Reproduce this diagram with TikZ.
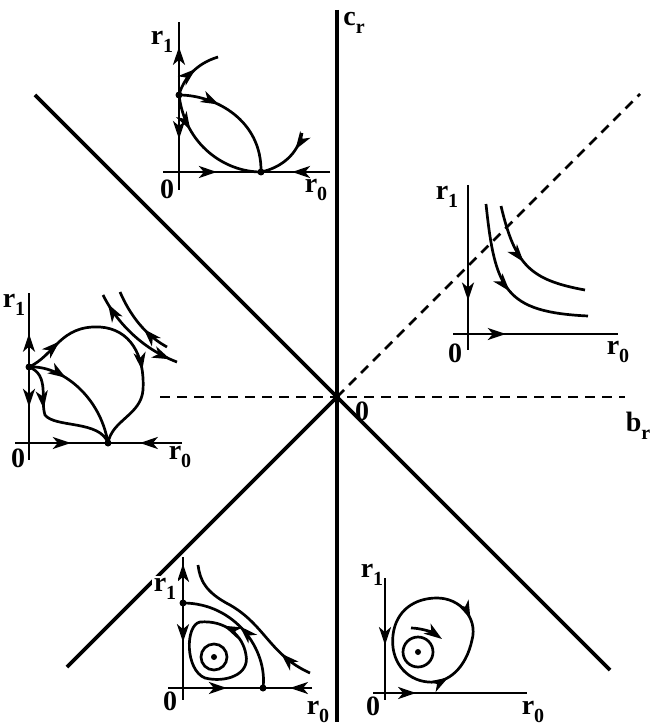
\documentclass[tikz,border=0pt]{standalone}
\usepackage{fontspec}
\setmainfont{Liberation Serif}
\usetikzlibrary{arrows.meta,decorations.markings}
\newcommand{\lbl}[2]{#1\raisebox{-0.65ex}{\fontsize{20}{20}\selectfont #2}}

\begin{document}
\begin{tikzpicture}[x=1pt, y=-1pt,
        % main boundaries
        bound/.style={line width=3.6pt},
        zero/.style={line width=2.8pt, dash pattern=on 10pt off 7pt},
        % small phase portraits
        axis/.style={line width=2.5pt},
        traj/.style={line width=2.7pt},
        fix/.style={circle, fill, inner sep=0pt, minimum size=7pt},
        lab/.style={font=\fontsize{28}{30}\selectfont\bfseries, inner sep=0pt},
        % arrows on trajectories
        flowat/.style={postaction={decorate, decoration={markings,
            mark=at position #1 with {\arrow{>}}}}},
        backat/.style={postaction={decorate, decoration={markings,
            mark=at position #1 with {\arrowreversed{>}}}}},
        >={Stealth[length=18pt, width=12pt, inset=5pt]}
    ]
    \useasboundingbox (0,0) rectangle (654,727);

    % parameter plane
    \coordinate (O) at (337,397);
    \draw [bound] (35,95) -- (O) -- (610,670);
    \draw [bound] (O) -- (67,667);
    \draw [bound] (337,10) -- (337,722);
    \draw [zero] (160,397) -- (625,397);
    \draw [zero] (O) -- (640,94);
    \node [lab] (cr) at (354,23) {\lbl{c}{r}};
    \node [lab] (br) at (638,426) {\lbl{b}{r}};
    \node [lab] (o) at (362,411) {0};

    % top portrait
    \node [fix] (Tp) at (179,95) {};
    \node [fix] (Tq) at (261,172) {};
    \draw [axis] (179,190) -- (179,22);
    \draw [axis] (163,172) -- (330,172);
    \draw [axis, flowat=0.66] (Tp.center) -- (179,22);
    \draw [axis, flowat=0.55] (Tp.center) -- (179,175);
    \draw [axis, flowat=0.55] (163,172) -- (Tq.center);
    \draw [axis, flowat=0.55] (330,172) -- (Tq.center);
    \draw [traj, flowat=0.55] (Tp.center) .. controls (183,80) and (195,64) .. (218,57);
    \draw [traj, flowat=0.33] (Tp.center) .. controls (215,95) and (262,120) .. (Tq.center);
    \draw [traj, flowat=0.3] (Tp.center) .. controls (185,145) and (225,172) .. (Tq.center);
    \draw [traj, flowat=0.3] (302,133) .. controls (298,155) and (280,168) .. (Tq.center);
    \node [lab] (Tr1) at (162,42) {\lbl{r}{1}};
    \node [lab] (T0) at (167,189) {0};
    \node [lab] (Tr0) at (316,190) {\lbl{r}{0}};

    % right portrait
    \draw [axis, flowat=0.7] (468,185) -- (468,350);
    \draw [axis, flowat=0.32] (453,334) -- (618,334);
    \draw [traj, flowat=0.52] (486,204) .. controls (495,290) and (505,312) .. (588,316);
    \draw [traj, flowat=0.47] (501,206) .. controls (515,265) and (530,280) .. (585,290);
    \node [lab] (Rr1) at (447,197) {\lbl{r}{1}};
    \node [lab] (R0) at (455,353) {0};
    \node [lab] (Rr0) at (618,352) {\lbl{r}{0}};

    % left portrait
    \node [fix] (Lp) at (29,367) {};
    \node [fix] (Lq) at (108,443) {};
    \draw [axis] (29,293) -- (29,460);
    \draw [axis] (15,443) -- (182,443);
    \draw [axis, flowat=0.45] (Lp.center) -- (29,293);
    \draw [axis, flowat=0.48] (Lp.center) -- (29,450);
    \draw [axis, flowat=0.6] (15,443) -- (Lq.center);
    \draw [axis, flowat=0.57] (182,443) -- (Lq.center);
    \draw [traj, flowat=0.17, flowat=0.64] (Lp.center) .. controls (55,355) and (60,325) .. (100,327)
        .. controls (130,329) and (145,355) .. (143,390) .. controls (141,415) and (112,420) .. (Lq.center);
    \draw [traj, flowat=0.33] (Lp.center) .. controls (60,365) and (100,395) .. (Lq.center);
    \draw [traj, flowat=0.38] (Lp.center) .. controls (50,375) and (40,400) .. (45,415)
        .. controls (55,428) and (100,420) .. (Lq.center);
    \draw [traj, backat=0.1, flowat=0.93] (103,295) .. controls (118,325) and (145,350) .. (177,362);
    \draw [traj, backat=0.6] (120,292) .. controls (130,315) and (145,335) .. (167,347);
    \node [lab] (Lr1) at (14,305) {\lbl{r}{1}};
    \node [lab] (L0) at (18,458) {0};
    \node [lab] (Lr0) at (180,457) {\lbl{r}{0}};

    % bottom left portrait
    \node [fix] (Bp) at (183,603) {};
    \node [fix] (Bq) at (263,688) {};
    \node [fix, minimum size=6pt] (Bc) at (214,657) {};
    \draw [axis] (183,557) -- (183,700);
    \draw [axis] (168,688) -- (312,688);
    \draw [axis, flowat=0.85] (Bp.center) -- (183,557);
    \draw [axis, flowat=0.45] (Bp.center) -- (183,690);
    \draw [axis, flowat=0.62] (168,688) -- (Bq.center);
    \draw [axis, flowat=0.45] (312,688) -- (Bq.center);
    \draw [traj] (Bc) circle (13);
    \draw [traj, flowat=0.87] (200,622) .. controls (185,625) and (185,670) .. (205,678)
        .. controls (225,683) and (250,675) .. (246,655) .. controls (243,635) and (225,620) .. cycle;
    \draw [traj, flowat=0.52] (Bq.center) .. controls (268,650) and (235,603) .. (Bp.center);
    \draw [traj, flowat=0.22] (310,673) .. controls (270,655) and (265,625) .. (230,605)
        .. controls (205,592) and (200,580) .. (198,565);
    \node [lab, fill=white, inner sep=2pt] (Br1) at (165,589) {\lbl{r}{1}};
    \node [lab] (B0) at (170,701) {0};
    \node [lab] (Br0) at (318,712) {\lbl{r}{0}};

    % bottom right portrait
    \node [fix, minimum size=6pt] (Cc) at (418,652) {};
    \draw [axis, flowat=0.55] (385,578) -- (385,700);
    \draw [axis, flowat=0.28] (373,693) -- (527,693);
    \draw [traj] (Cc) circle (15);
    \draw [traj, flowat=0.16, backat=0.42] (437,598) .. controls (460,598) and (478,618) .. (472,640)
        .. controls (466,668) and (448,684) .. (428,682) .. controls (405,680) and (390,660) .. (393,635)
        .. controls (396,610) and (415,598) .. cycle;
    \draw [traj, ->] (411,628) .. controls (420,628) and (432,632) .. (442,639);
    \node [lab] (Cr1) at (372,575) {\lbl{r}{1}};
    \node [lab] (C0) at (373,706) {0};
    \node [lab] (Cr0) at (533,712) {\lbl{r}{0}};

\end{tikzpicture}
\end{document}
